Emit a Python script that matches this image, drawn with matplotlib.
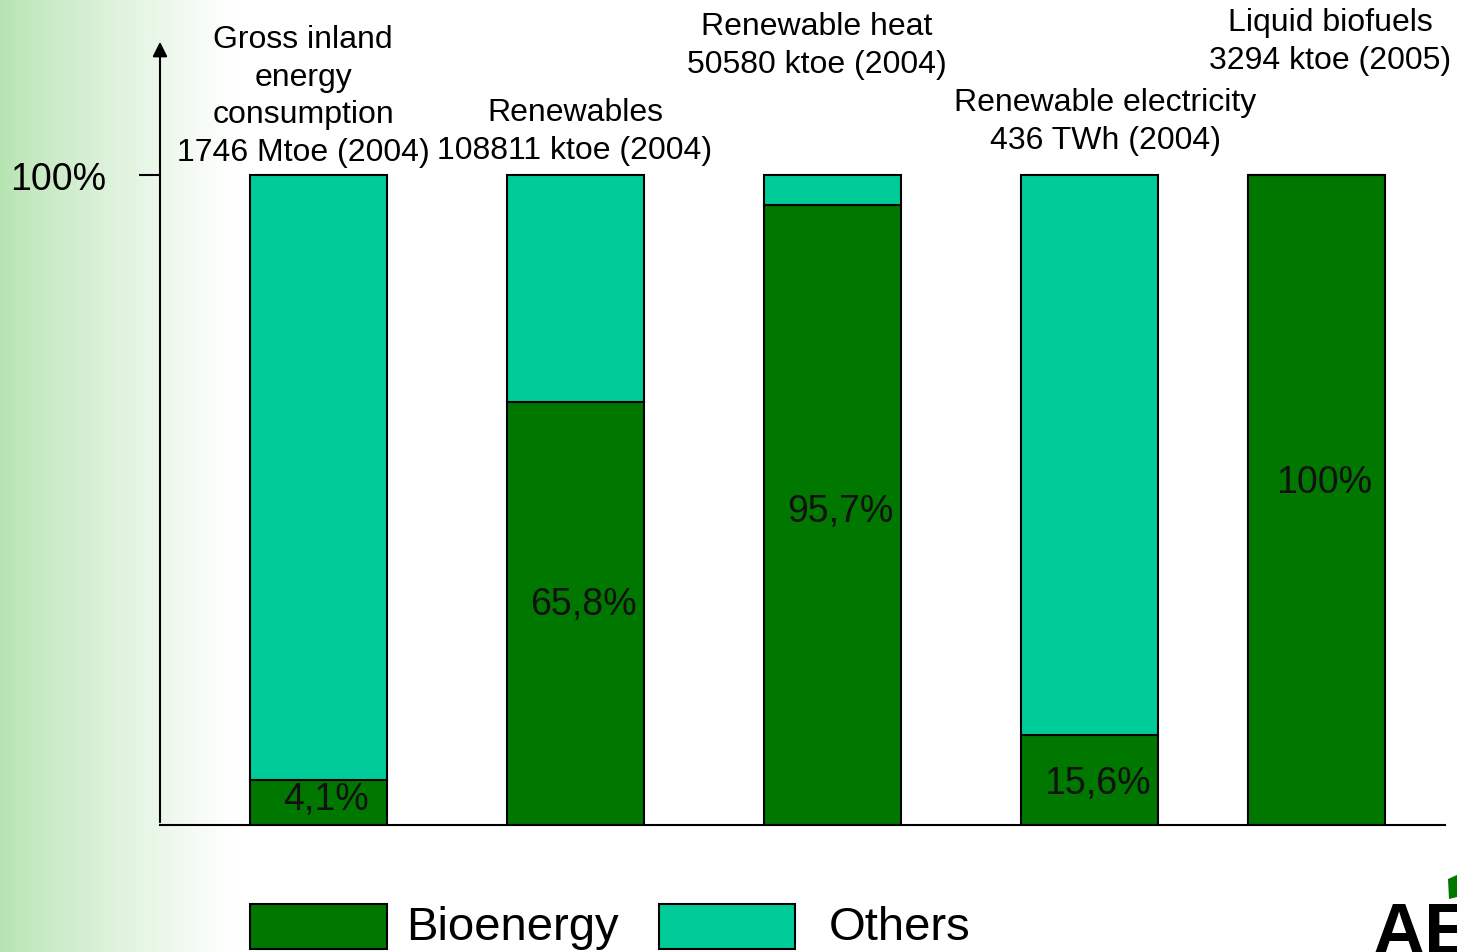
import numpy as np
import matplotlib.pyplot as plt
from matplotlib.patches import Rectangle, Polygon

plt.rcParams['font.family'] = ['Liberation Sans', 'DejaVu Sans']

categories = ['Gross inland\nenergy\nconsumption\n1746 Mtoe (2004)',
              'Renewables\n108811 ktoe (2004)',
              'Renewable heat\n50580 ktoe (2004)',
              'Renewable electricity\n436 TWh (2004)',
              'Liquid biofuels\n3294 ktoe (2005)']
bioenergy = [6.9, 65.1, 95.4, 13.8, 100.0]   # share as drawn (%)
value_labels = ['4,1%', '65,8%', '95,7%', '15,6%', '100%']
others = [100 - b for b in bioenergy]

bio_color = '#007800'
oth_color = '#00cc99'

x = [0, 1, 2, 3, 3.883]
width = 0.533

fig = plt.figure(figsize=(14.57, 9.53), dpi=100)

# green fade on the left side of the slide
bg = fig.add_axes([0, 0, 1, 1], zorder=-10)
grad = np.linspace(0, 1, 1457)
grad = np.clip(grad / (235 / 1457), 0, 1) ** 0.8
start = np.array([0.71, 0.89, 0.69])
img = start[None, :] * (1 - grad[:, None]) + grad[:, None]
bg.imshow(img[None, :, :], aspect='auto', extent=[0, 1, 0, 1])
bg.axis('off')

ax = fig.add_axes([160 / 1457, 1 - 826 / 953, 1285 / 1457, (826 - 40) / 953])
ax.patch.set_alpha(0)
ax.bar(x, bioenergy, width, color=bio_color, edgecolor='black', linewidth=1.5, zorder=2)
ax.bar(x, others, width, bottom=bioenergy, color=oth_color, edgecolor='black', linewidth=1.5, zorder=2)

ax.set_xlim(-0.617, 4.383)
ax.set_ylim(0, 100 * 786 / 650)

label_dy = [0.5, 1.5, 0.6, -0.5, 2.8]
for xi, b, lab, dy in zip(x, bioenergy, value_labels, label_dy):
    ax.text(xi + 0.03, b / 2 + dy, lab, ha='center', va='center', fontsize=27, color='#111111', zorder=3)

# category labels (top of each bar)
label_x = [303, 575, 817, 1105, 1330]
label_bottom = [168, 166, 80, 156, 76]
for lx, lb, cat in zip(label_x, label_bottom, categories):
    fig.text(lx / 1457, 1 - lb / 953, cat, ha='center', va='bottom', fontsize=23, linespacing=1.33)

for s in ['top', 'right', 'left']:
    ax.spines[s].set_visible(False)
ax.spines['bottom'].set_linewidth(1.5)
ax.annotate('', xy=(0, 1.0), xytext=(0, 0), xycoords='axes fraction',
            arrowprops=dict(arrowstyle='-|>', color='black', lw=1.5, mutation_scale=22))
ax.set_xticks([])
ax.set_yticks([100])
ax.set_yticklabels(['100%'], fontsize=27)
ax.tick_params(axis='y', length=15, width=1.5, pad=24)

# legend
for (x0, x1), col, name, tx in [((250, 387), bio_color, 'Bioenergy', 406),
                                ((659, 795), oth_color, 'Others', 829)]:
    fig.patches.append(Rectangle((x0 / 1457, 1 - 950 / 953), (x1 - x0) / 1457, 45 / 953,
                                 transform=fig.transFigure, facecolor=col, edgecolor='black', lw=1.5))
    fig.text(tx / 1457, 1 - 928 / 953, name, ha='left', va='center', fontsize=34)

# corner logo fragment
fig.text(1372 / 1457, -16 / 953, 'AE', ha='left', va='bottom', fontsize=52, fontweight='bold', color='black')
fig.patches.append(Polygon([(1448 / 1457, 1 - 880 / 953), (1457 / 1457, 1 - 876 / 953),
                            (1457 / 1457, 1 - 898 / 953), (1449 / 1457, 1 - 900 / 953)],
                           closed=True, transform=fig.transFigure, facecolor=bio_color))

fig.savefig('out.png', dpi=100)
